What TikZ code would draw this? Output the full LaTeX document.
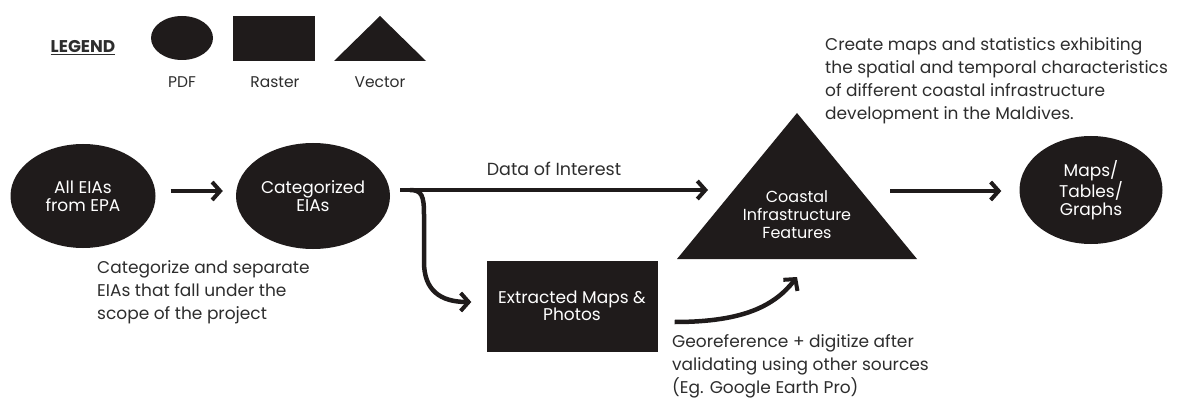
\documentclass[tikz,border=0pt]{standalone}
\usepackage{fontspec}
\setmainfont{Poppins}
\usetikzlibrary{shapes.geometric,arrows.meta}
\definecolor{ink}{RGB}{31,27,27}
\definecolor{txt}{RGB}{45,45,45}
\begin{document}
\begin{tikzpicture}[x=1pt,y=-1pt,
    pdfshape/.style={ellipse, fill=ink, text=white, inner sep=0pt, align=center, font=\fontsize{17}{18}\selectfont},
    rastershape/.style={rectangle, fill=ink, text=white, inner sep=0pt, align=center, font=\fontsize{17}{17}\selectfont},
    note/.style={text=txt, align=left, anchor=north west, inner sep=0pt, font=\fontsize{17}{23}\selectfont},
    legendtext/.style={text=txt, font=\fontsize{15.5}{17}\selectfont},
    flow/.style={line width=4.5pt, draw=ink, -{Straight Barb[length=8pt,width=18pt,line width=4pt]}}]
      \useasboundingbox (0,0) rectangle (1180,398);
      % Legend
      \node[text=txt, font=\fontsize{17}{19}\selectfont\bfseries] at (83,48) (legend) {\underline{LEGEND}};
      \node[pdfshape, minimum width=62, minimum height=44] at (182,38) (lpdf) {};
      \node[rastershape, minimum width=82, minimum height=45] at (274,38.5) (lraster) {};
      \fill[ink] (334,61) -- (380,16) -- (426,61) -- cycle;
      \node[legendtext] at (182,82) (tpdf) {PDF};
      \node[legendtext] at (275,82) (traster) {Raster};
      \node[legendtext] at (380,82) (tvector) {Vector};

      % Nodes
      \node[pdfshape, minimum width=145, minimum height=104] at (83,196) (all) {All EIAs\\from EPA};
      \node[pdfshape, minimum width=154, minimum height=106] at (313,196) (cat) {Categorized\\EIAs};
      \node[rastershape, minimum width=171, minimum height=91] at (572,306) (ext) {Extracted Maps \&\\Photos};
      \fill[ink] (677,259) -- (797,113) -- (917,259) -- cycle;
      \node[text=white, align=center, inner sep=0pt, font=\fontsize{16}{18}\selectfont] at (797,215) (coast) {Coastal\\Infrastructure\\Features};
      \node[pdfshape, minimum width=143, minimum height=108] at (1091,190) (maps) {Maps/\\Tables/\\Graphs};

      % Notes
      \node[note] at (97,260) (catnote) {Categorize and separate\\EIAs that fall under the\\scope of the project};
      \node[note] at (672,334) (geonote) {Georeference + digitize after\\validating using other sources\\(Eg. Google Earth Pro)};
      \node[note] at (825,37) (outnote) {Create maps and statistics exhibiting\\the spatial and temporal characteristics\\of different coastal infrastructure\\development in the Maldives.};

      % Connectors
      \coordinate (split) at (400,190);
      \coordinate (coastin) at (708,190);
      \coordinate (coastlow) at (797,277);
      \draw[flow] ([xshift=15pt,yshift=5pt]all.east) -- ([xshift=-13pt,yshift=5pt]cat.west);
      \draw[flow] (split) -- node[above=9pt, text=txt, font=\fontsize{17.5}{19}\selectfont] (doi) {Data of Interest} (coastin);
      \draw[flow] (410,190) .. controls (422,190) and (424,196) .. (424,215) -- (424,262)
          .. controls (424,290) and (440,302) .. ([xshift=-15pt,yshift=4pt]ext.west);
      \draw[flow] ([xshift=17pt,yshift=-16pt]ext.east) .. controls (745,322) and (775,305) .. (coastlow);
      \draw[flow] (890,191) -- ([xshift=-18pt,yshift=-1pt]maps.west);
    \end{tikzpicture}
\end{document}
